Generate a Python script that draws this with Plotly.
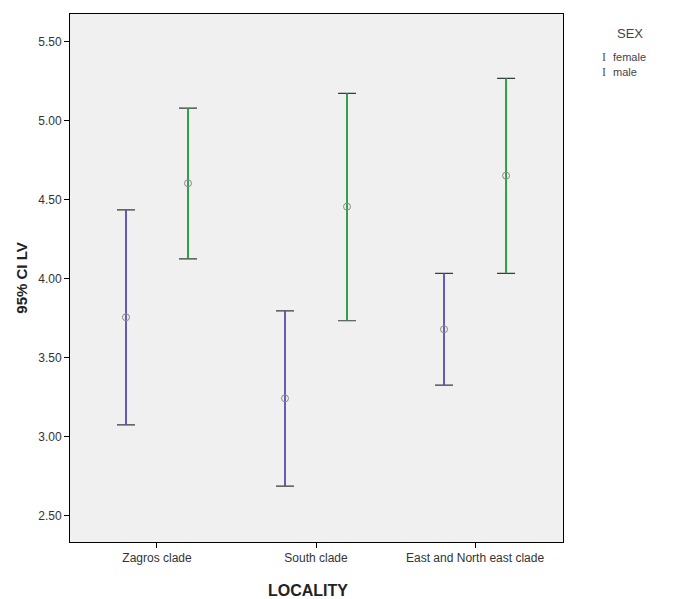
import plotly.graph_objects as go

# Data
localities = ["Zagros clade", "South clade", "East and North east clade"]
female_mean = [3.756, 3.243, 3.680]
female_upper = [4.435, 3.797, 4.034]
female_lower = [3.075, 2.688, 3.327]
male_mean = [4.604, 4.456, 4.652]
male_upper = [5.080, 5.173, 5.268]
male_lower = [4.126, 3.734, 4.034]
y_ticks = [2.5, 3.0, 3.5, 4.0, 4.5, 5.0, 5.5]
sex_labels = ["female", "male"]

offset = 0.195
female_color = "#5b52c8"
male_color = "#1ea83c"
cap_color = "#3a3a3a"

fig = go.Figure()

def add_series(mean, upper, lower, sign, color, name):
    xs = [i + sign * offset for i in range(len(mean))]
    plus = [u - m for u, m in zip(upper, mean)]
    minus = [m - l for m, l in zip(mean, lower)]
    # caps (dark)
    fig.add_trace(go.Scatter(
        x=xs, y=mean, mode="markers", name=name, showlegend=False,
        marker=dict(size=0.1, color="rgba(0,0,0,0)"),
        error_y=dict(type="data", symmetric=False, array=plus, arrayminus=minus,
                     color=cap_color, thickness=1.2, width=9),
        hoverinfo="skip"))
    # coloured whisker line on top
    fig.add_trace(go.Scatter(
        x=xs, y=mean, mode="markers", name=name, showlegend=False,
        marker=dict(symbol="circle-open", size=7, color="#888888",
                    line=dict(width=1, color="#888888")),
        error_y=dict(type="data", symmetric=False, array=plus, arrayminus=minus,
                     color=color, thickness=1.6, width=0)))

add_series(female_mean, female_upper, female_lower, -1, female_color, sex_labels[0])
add_series(male_mean, male_upper, male_lower, 1, male_color, sex_labels[1])

annotations = [
    dict(text="<b>LOCALITY</b>", xref="paper", yref="paper", x=0.483, y=0,
         yshift=-48, showarrow=False, font=dict(size=16, color="#222222"),
         xanchor="center", yanchor="middle"),
    dict(text="SEX", xref="paper", yref="paper", x=1.0, y=1.0,
         xshift=67, yshift=-19, showarrow=False,
         font=dict(size=13, color="#444444"), xanchor="center", yanchor="middle"),
]
for k, lab in enumerate(sex_labels):
    annotations.append(dict(text="I", xref="paper", yref="paper", x=1.0, y=1.0,
                            xshift=41, yshift=-43 - 15 * k, showarrow=False,
                            font=dict(size=12, color="#555555", family="Liberation Serif"),
                            xanchor="center", yanchor="middle"))
    annotations.append(dict(text=lab, xref="paper", yref="paper", x=1.0, y=1.0,
                            xshift=48, yshift=-43 - 15 * k, showarrow=False,
                            font=dict(size=11, color="#444444"),
                            xanchor="left", yanchor="middle"))

# page body has an 8px default margin, so the figure is sized to fit the window
fig.update_layout(
    width=674, height=591,
    margin=dict(l=62, r=119, t=6, b=57),
    paper_bgcolor="white",
    plot_bgcolor="#f0f0f0",
    font=dict(family="Liberation Sans, Arial, sans-serif", size=12, color="#333333"),
    showlegend=False,
    xaxis=dict(
        range=[-0.547, 2.553],
        tickmode="array", tickvals=list(range(len(localities))), ticktext=localities,
        showgrid=False, zeroline=False, automargin=False,
        showline=True, mirror=True, linecolor="black", linewidth=1,
        ticks="outside", ticklen=5, tickcolor="black",
        tickfont=dict(size=12, color="#333333"),
    ),
    yaxis=dict(
        range=[2.334, 5.675],
        tickmode="array", tickvals=y_ticks, ticktext=[f"{v:.2f}" for v in y_ticks],
        showgrid=False, zeroline=False, automargin=False,
        showline=True, mirror=True, linecolor="black", linewidth=1,
        ticks="outside", ticklen=5, tickcolor="black",
        tickfont=dict(size=12, color="#333333"),
        title=dict(text="<b>95% CI LV</b>", font=dict(size=15, color="#222222"), standoff=6),
    ),
    annotations=annotations,
)

fig.write_html("out.html")
